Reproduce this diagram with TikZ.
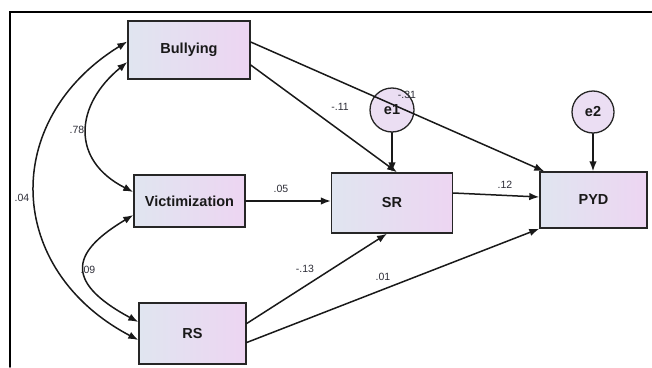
\documentclass[tikz,border=0pt]{standalone}
\usepackage{fontspec}
\setmainfont{Liberation Sans}
\usetikzlibrary{arrows.meta}
\definecolor{boxleft}{RGB}{224,229,240}
\definecolor{boxright}{RGB}{237,213,242}
\definecolor{errfill}{RGB}{235,222,243}
\definecolor{coefcol}{RGB}{45,45,55}

\begin{document}
\begin{tikzpicture}[x=1pt,y=-1pt,>={Latex[length=10pt,width=7.5pt]},line cap=round,
  var/.style={draw=black!85,line width=1.4pt,left color=boxleft,right color=boxright,
    font=\fontsize{14.5}{16}\selectfont\bfseries,text=black!90,inner sep=0pt},
  err/.style={circle,draw=black!85,line width=1.3pt,fill=errfill,minimum size=44pt,
    inner sep=0pt,font=\fontsize{14.5}{16}\selectfont\bfseries,text=black!90},
  coef/.style={font=\fontsize{10.5}{11}\selectfont,text=coefcol,inner sep=0pt},
  link/.style={->,line width=1.5pt,black!90},
  cov/.style={<->,line width=1.5pt,black!90}]
\useasboundingbox (0,0) rectangle (652,367);
\draw[line width=1.8pt] (10,367) -- (10,12) -- (652,12);

\node[var,minimum width=122pt,minimum height=58pt] (bully) at (189,50) {Bullying};
\node[var,minimum width=111pt,minimum height=52pt] (vict) at (189.5,201) {Victimization};
\node[var,minimum width=107pt,minimum height=61pt] (rs) at (192.5,333.5) {RS};
\node[var,minimum width=121pt,minimum height=60pt] (sr) at (392,203) {SR};
\node[var,minimum width=107pt,minimum height=56pt] (pyd) at (593.5,200) {PYD};
\node[err] (e1) at (392,110) {e1};
\node[err,minimum size=42pt] (e2) at (593,112) {e2};

\draw[link] ([yshift=-15pt]bully.east) -- ([xshift=5pt]sr.north);
\draw[link] ([yshift=8pt]bully.east) -- ([xshift=5pt]pyd.north west);
\draw[link] (e1) -- (sr);
\draw[link] (e2.south) -- (e2.south |- pyd.north);
\draw[link] (vict.east) -- ([yshift=2pt]sr.west);
\draw[link] ([yshift=10pt]sr.east) -- ([yshift=3pt]pyd.west);
\draw[link] ([yshift=10pt]rs.east) -- ([xshift=-5pt]sr.south);
\draw[link] ([yshift=-9pt]rs.east) -- (pyd.south west);

\draw[cov] ([yshift=8.5pt]bully.west) .. controls (0,120) and (5,270) .. ([yshift=-6.5pt]rs.west);
\draw[cov] ([yshift=-12pt]bully.west) .. controls (75,105) and (70,160) .. ([yshift=9pt]vict.west);
\draw[cov] ([yshift=-14pt]vict.west) .. controls (75,250) and (60,280) .. ([yshift=11.5pt]rs.west);

\node[coef] (c78) at (77,130) {.78};
\node[coef] (c04) at (22,198) {.04};
\node[coef] (c09) at (88,270) {.09};
\node[coef] (c11) at (340,107) {-.11};
\node[coef] (c31) at (407,95) {-.31};
\node[coef] (c05) at (281,189) {.05};
\node[coef] (c12) at (505,185) {.12};
\node[coef] (c13) at (305,269) {-.13};
\node[coef] (c01) at (383,277) {.01};
\end{tikzpicture}
\end{document}
